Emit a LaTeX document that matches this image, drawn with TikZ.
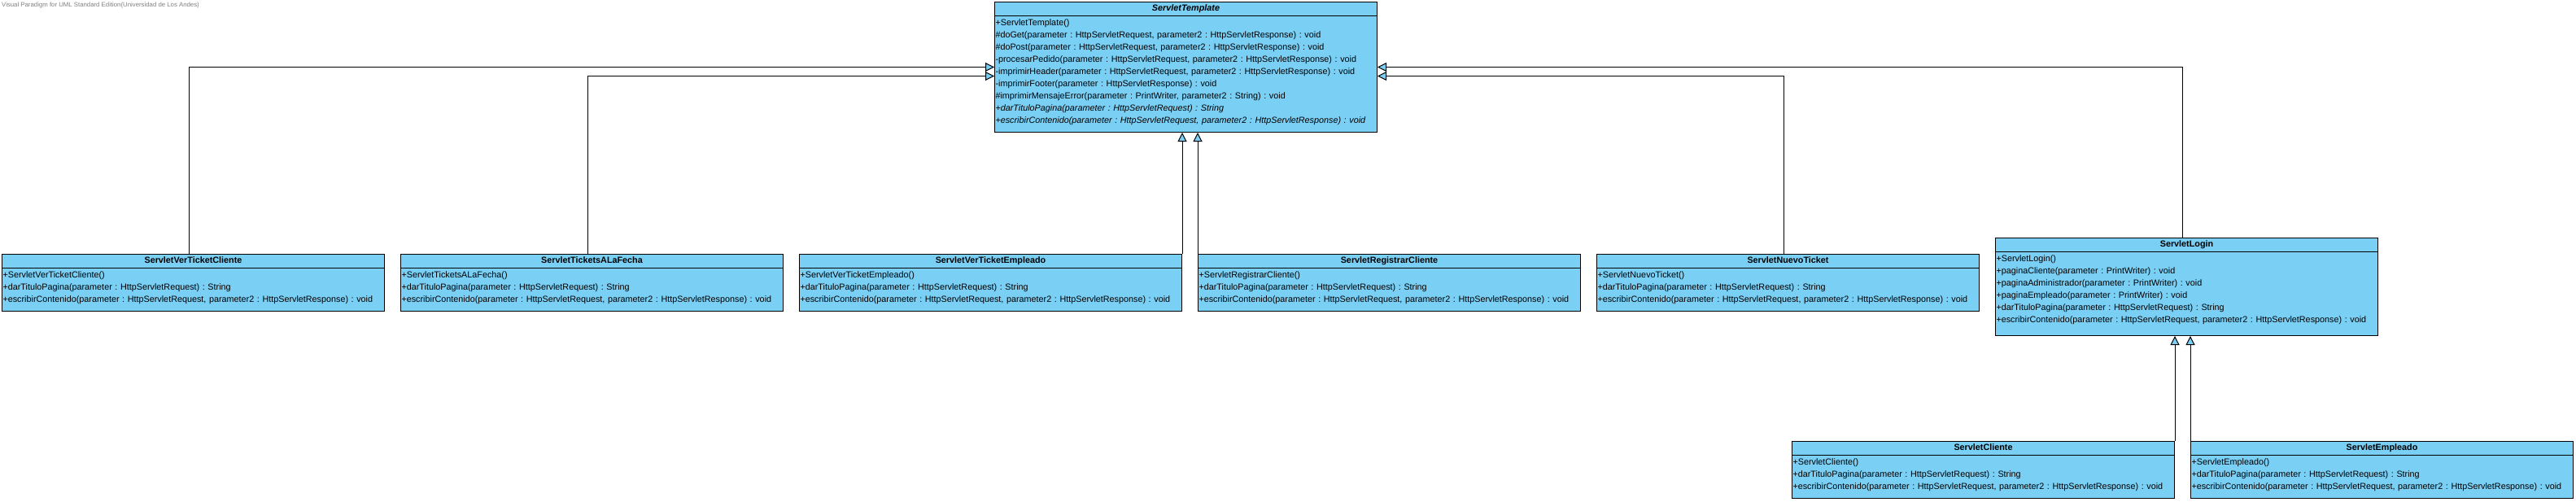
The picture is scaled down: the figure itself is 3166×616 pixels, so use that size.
\documentclass[tikz,border=0pt]{standalone}
\usepackage{fontspec}
\setmainfont{Liberation Sans}
\usetikzlibrary{arrows.meta}
\definecolor{umlblue}{RGB}{122,207,245}
\tikzset{cls/.style={draw, fill=umlblue, line width=1pt, anchor=north west, inner sep=0pt,
  text width=470pt, text height=11pt, font=\fontsize{10.8}{15}\selectfont\frenchspacing}}
\tikzset{gen/.style={line width=1pt, -{Triangle[length=11pt,width=11pt,fill=umlblue]}}}
\tikzset{wm/.style={anchor=west, inner sep=0pt, text=gray, font=\fontsize{7.8}{8}\selectfont}}
\newcommand{\clshead}[1]{
  {\centering\bfseries\rule[-5pt]{0pt}{16pt}#1\par}
  \hrule height .8pt
  \leftskip=1pt\relax}
\newcommand{\op}[1]{#1\rule[-2.5pt]{0pt}{15pt}\par}

\begin{document}
\begin{tikzpicture}[x=1pt,y=-1pt]
  \useasboundingbox (0,0) rectangle (3166,616);
  \node[wm] (vp) at (2,6) {Visual Paradigm for UML Standard Edition(Universidad de Los Andes)};
  % superclass
  \node[cls, text depth=149pt] (tmpl) at (1222,2) {\clshead{\itshape ServletTemplate}
    \op{+ServletTemplate()}
    \op{\#doGet(parameter : HttpServletRequest, parameter2 : HttpServletResponse) : void}
    \op{\#doPost(parameter : HttpServletRequest, parameter2 : HttpServletResponse) : void}
    \op{-procesarPedido(parameter : HttpServletRequest, parameter2 : HttpServletResponse) : void}
    \op{-imprimirHeader(parameter : HttpServletRequest, parameter2 : HttpServletResponse) : void}
    \op{-imprimirFooter(parameter : HttpServletResponse) : void}
    \op{\#imprimirMensajeError(parameter : PrintWriter, parameter2 : String) : void}
    \op{\textit{+darTituloPagina(parameter : HttpServletRequest) : String}}
    \op{\textit{+escribirContenido(parameter : HttpServletRequest, parameter2 : HttpServletResponse) : void}}};
  % subclasses
  \node[cls, text depth=59pt] (vtc) at (2,312) {\clshead{ServletVerTicketCliente}
    \op{+ServletVerTicketCliente()}
    \op{+darTituloPagina(parameter : HttpServletRequest) : String}
    \op{+escribirContenido(parameter : HttpServletRequest, parameter2 : HttpServletResponse) : void}};
  \node[cls, text depth=59pt] (taf) at (492,312) {\clshead{ServletTicketsALaFecha}
    \op{+ServletTicketsALaFecha()}
    \op{+darTituloPagina(parameter : HttpServletRequest) : String}
    \op{+escribirContenido(parameter : HttpServletRequest, parameter2 : HttpServletResponse) : void}};
  \node[cls, text depth=59pt] (vte) at (982,312) {\clshead{ServletVerTicketEmpleado}
    \op{+ServletVerTicketEmpleado()}
    \op{+darTituloPagina(parameter : HttpServletRequest) : String}
    \op{+escribirContenido(parameter : HttpServletRequest, parameter2 : HttpServletResponse) : void}};
  \node[cls, text depth=59pt] (rc) at (1472,312) {\clshead{ServletRegistrarCliente}
    \op{+ServletRegistrarCliente()}
    \op{+darTituloPagina(parameter : HttpServletRequest) : String}
    \op{+escribirContenido(parameter : HttpServletRequest, parameter2 : HttpServletResponse) : void}};
  \node[cls, text depth=59pt] (nt) at (1962,312) {\clshead{ServletNuevoTicket}
    \op{+ServletNuevoTicket()}
    \op{+darTituloPagina(parameter : HttpServletRequest) : String}
    \op{+escribirContenido(parameter : HttpServletRequest, parameter2 : HttpServletResponse) : void}};
  \node[cls, text depth=109pt] (lg) at (2452,292) {\clshead{ServletLogin}
    \op{+ServletLogin()}
    \op{+paginaCliente(parameter : PrintWriter) : void}
    \op{+paginaAdministrador(parameter : PrintWriter) : void}
    \op{+paginaEmpleado(parameter : PrintWriter) : void}
    \op{+darTituloPagina(parameter : HttpServletRequest) : String}
    \op{+escribirContenido(parameter : HttpServletRequest, parameter2 : HttpServletResponse) : void}};
  \node[cls, text depth=59pt] (cl) at (2202,542) {\clshead{ServletCliente}
    \op{+ServletCliente()}
    \op{+darTituloPagina(parameter : HttpServletRequest) : String}
    \op{+escribirContenido(parameter : HttpServletRequest, parameter2 : HttpServletResponse) : void}};
  \node[cls, text depth=59pt] (em) at (2692,542) {\clshead{ServletEmpleado}
    \op{+ServletEmpleado()}
    \op{+darTituloPagina(parameter : HttpServletRequest) : String}
    \op{+escribirContenido(parameter : HttpServletRequest, parameter2 : HttpServletResponse) : void}};
  % generalizations
  \draw[gen] ([xshift=-5pt]vtc.north) |- (tmpl.west);
  \draw[gen] ([xshift=-5pt]taf.north) |- ([yshift=-11pt]tmpl.west);
  \draw[gen] (vte.north east) -- (vte.north east |- tmpl.south);
  \draw[gen] (rc.north west) -- (rc.north west |- tmpl.south);
  \draw[gen] ([xshift=-5pt]nt.north) |- ([yshift=-11pt]tmpl.east);
  \draw[gen] ([xshift=-5pt]lg.north) |- (tmpl.east);
  \draw[gen] (cl.north east) -- (cl.north east |- lg.south);
  \draw[gen] (em.north west) -- (em.north west |- lg.south);
\end{tikzpicture}
\end{document}
